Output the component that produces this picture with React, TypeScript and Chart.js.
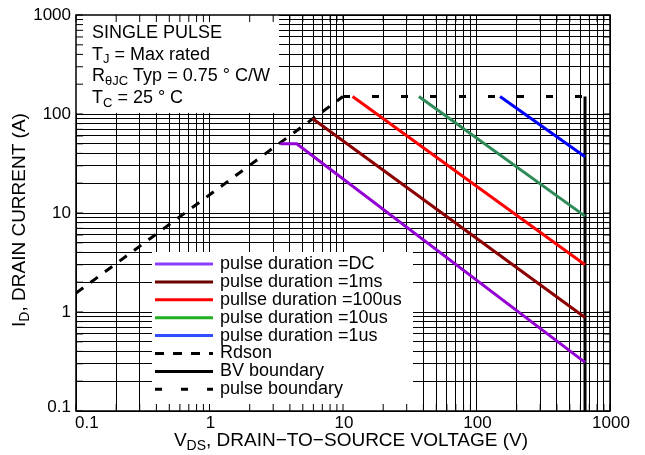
import { useEffect, useRef } from 'react';
import { Chart, registerables } from 'chart.js';
Chart.register(...registerables);

// ---- data ----
const dcVoltage = [3.4, 4.5, 650];
const dcCurrent = [50, 50, 0.31];
const ms1Voltage = [5.9, 650];
const ms1Current = [90, 0.88];
const us100Voltage = [11.8, 650];
const us100Current = [150, 3.0];
const us10Voltage = [37, 650];
const us10Current = [150, 9.3];
const us1Voltage = [150, 650];
const us1Current = [150, 37];
const rdsonVoltage = [0.1, 10];
const rdsonCurrent = [1.55, 150];
const pulseVoltage = [10, 650];
const pulseCurrent = [150, 150];
const bvVoltage = [650, 650];
const bvCurrent = [150, 0.1];

const xTickValues = [0.1, 1, 10, 100, 1000];
const xTickLabels = ['0.1', '1', '10', '100', '1000'];
const yTickValues = [0.1, 1, 10, 100, 1000];
const yTickLabels = ['0.1', '1', '10', '100', '1000'];

const legendLabels = [
  'pulse duration =DC',
  'pulse duration =1ms',
  'pullse duration =100us',
  'pulse duration =10us',
  'pulse duration =1us',
  'Rdson',
  'BV boundary',
  'pulse boundary',
];
const legendColors = ['#8a3cff', '#6b0000', '#ff0000', '#22b022', '#3050ff', '#000', '#000', '#000'];
const legendDashes: number[][] = [[], [], [], [], [], [9, 9], [], [7, 19]];

const infoLines: [string, boolean][][] = [
  [['SINGLE PULSE', false]],
  [['T', false], ['J', true], [' = Max rated', false]],
  [['R', false], ['θJC', true], [' Typ = 0.75 ° C/W', false]],
  [['T', false], ['C', true], [' = 25 ° C', false]],
];

const xTitle: [string, boolean][] = [['V', false], ['DS', true], [', DRAIN\u2212TO\u2212SOURCE VOLTAGE (V)', false]];
const yTitle: [string, boolean][] = [['I', false], ['D', true], [', DRAIN CURRENT (A)', false]];

// log grid positions 1..9 x 10^n
const gridValues: number[] = [];
for (let e = -1; e <= 2; e++) for (let m = 1; m <= 9; m++) gridValues.push(Number((m * Math.pow(10, e)).toPrecision(3)));
gridValues.push(1000);

const FAMILY = '"Liberation Sans", Arial, Helvetica, sans-serif';
const f = (s: number) => `${s}px ${FAMILY}`;

function richWidth(ctx: CanvasRenderingContext2D, parts: [string, boolean][], size: number, sub: number) {
  let w = 0;
  for (const [t, s] of parts) { ctx.font = f(s ? sub : size); w += ctx.measureText(t).width; }
  return w;
}
function drawRich(ctx: CanvasRenderingContext2D, parts: [string, boolean][], x: number, y: number, size: number, sub: number, align: 'left' | 'center') {
  const total = richWidth(ctx, parts, size, sub);
  let cx = align === 'center' ? x - total / 2 : x;
  ctx.textAlign = 'left';
  ctx.textBaseline = 'middle';
  for (const [t, s] of parts) {
    ctx.font = f(s ? sub : size);
    ctx.fillText(t, cx, s ? y + 5 : y);
    cx += ctx.measureText(t).width;
  }
}

const overlay = {
  id: 'overlay',
  beforeDatasetsDraw(chart: any) {
    const { ctx, chartArea: a } = chart;
    ctx.save();
    ctx.fillStyle = '#fff';
    // info box
    ctx.fillRect(a.left, a.top, 203, 98);
    // legend box
    ctx.fillRect(a.left + 76, a.bottom - 159, 261, 159);
    ctx.restore();
  },
  afterDatasetsDraw(chart: any) {
    const { ctx, chartArea: a, scales } = chart;
    const xs = scales.x, ys = scales.y;
    ctx.save();
    // inward ticks
    ctx.strokeStyle = '#000';
    ctx.lineWidth = 1;
    ctx.beginPath();
    for (const v of gridValues) {
      const px = xs.getPixelForValue(v);
      ctx.moveTo(px, a.bottom); ctx.lineTo(px, a.bottom - 7);
      ctx.moveTo(px, a.top); ctx.lineTo(px, a.top + 7);
      const py = ys.getPixelForValue(v);
      ctx.moveTo(a.left, py); ctx.lineTo(a.left + 7, py);
      ctx.moveTo(a.right, py); ctx.lineTo(a.right - 7, py);
    }
    ctx.stroke();
    // frame
    ctx.lineWidth = 1.5;
    ctx.strokeRect(a.left, a.top, a.right - a.left, a.bottom - a.top);

    ctx.fillStyle = '#000';
    // info text
    infoLines.forEach((line, i) => drawRich(ctx, line, a.left + 16, a.top + 18 + i * 21.7, 18, 13, 'left'));

    // legend
    legendLabels.forEach((lab, i) => {
      const y = a.bottom - 147 + i * 17.9;
      ctx.beginPath();
      ctx.strokeStyle = legendColors[i];
      ctx.lineWidth = 3;
      ctx.setLineDash(legendDashes[i]);
      ctx.moveTo(a.left + 79, y);
      ctx.lineTo(a.left + 137, y);
      ctx.stroke();
      ctx.setLineDash([]);
      ctx.fillStyle = '#000';
      ctx.font = f(18);
      ctx.textAlign = 'left';
      ctx.textBaseline = 'middle';
      ctx.fillText(lab, a.left + 144, y);
    });

    // tick labels
    ctx.font = f(17);
    ctx.fillStyle = '#000';
    ctx.textBaseline = 'middle';
    xTickValues.forEach((v, i) => {
      const px = xs.getPixelForValue(v);
      if (i === 0) { ctx.textAlign = 'left'; ctx.fillText(xTickLabels[i], a.left - 1, a.bottom + 12); }
      else { ctx.textAlign = 'center'; ctx.fillText(xTickLabels[i], px + 1, a.bottom + 12); }
    });
    ctx.textAlign = 'right';
    yTickValues.forEach((v, i) => {
      const py = ys.getPixelForValue(v);
      ctx.fillText(yTickLabels[i], a.left - 5, i === 0 ? py - 4 : py);
    });

    // axis titles
    drawRich(ctx, xTitle, 351, a.bottom + 30, 19, 14, 'center');
    ctx.save();
    ctx.translate(20, 220);
    ctx.rotate(-Math.PI / 2);
    drawRich(ctx, yTitle, 0, 0, 19, 14, 'center');
    ctx.restore();
    ctx.restore();
  },
};

function series(label: string, xs: number[], ys: number[], color: string, dash: number[] = []) {
  return {
    label,
    data: xs.map((x, i) => ({ x, y: ys[i] })),
    borderColor: color,
    backgroundColor: color,
    borderWidth: 3,
    borderDash: dash,
    pointRadius: 0,
    showLine: true,
    fill: false,
    tension: 0,
    borderCapStyle: 'butt',
    borderJoinStyle: 'miter',
  };
}

export default function App() {
  const ref = useRef<HTMLCanvasElement>(null);
  useEffect(() => {
    document.body.style.margin = '0';
    const canvas = ref.current!;
    const chart = new Chart(canvas, {
      type: 'scatter',
      data: {
        datasets: [
          series(legendLabels[0], dcVoltage, dcCurrent, '#9400D3'),
          series(legendLabels[1], ms1Voltage, ms1Current, '#8B0000'),
          series(legendLabels[2], us100Voltage, us100Current, '#FF0000'),
          series(legendLabels[3], us10Voltage, us10Current, '#2E8B57'),
          series(legendLabels[4], us1Voltage, us1Current, '#0000FF'),
          series(legendLabels[5], rdsonVoltage, rdsonCurrent, '#000', [9, 9]),
          series(legendLabels[7], pulseVoltage, pulseCurrent, '#000', [7, 22]),
          series(legendLabels[6], bvVoltage, bvCurrent, '#000'),
        ] as any,
      },
      options: {
        responsive: false,
        animation: false,
        devicePixelRatio: 1,
        layout: { padding: { left: 76, right: 35, top: 15, bottom: 44 } },
        plugins: { legend: { display: false }, tooltip: { enabled: false } },
        scales: {
          x: {
            type: 'logarithmic',
            min: 0.1,
            max: 1000,
            afterBuildTicks: (s: any) => { s.ticks = gridValues.map((v) => ({ value: v })); },
            afterFit: (s: any) => { s.height = 0; },
            ticks: { display: false },
            grid: { color: '#000', lineWidth: 1, drawTicks: false },
            border: { display: false },
          },
          y: {
            type: 'logarithmic',
            min: 0.1,
            max: 1000,
            afterBuildTicks: (s: any) => { s.ticks = gridValues.map((v) => ({ value: v })); },
            afterFit: (s: any) => { s.width = 0; },
            ticks: { display: false },
            grid: { color: '#000', lineWidth: 1, drawTicks: false },
            border: { display: false },
          },
        },
      } as any,
      plugins: [overlay],
    });
    return () => chart.destroy();
  }, []);
  return <canvas ref={ref} width={645} height={455} style={{ display: 'block' }} />;
}
